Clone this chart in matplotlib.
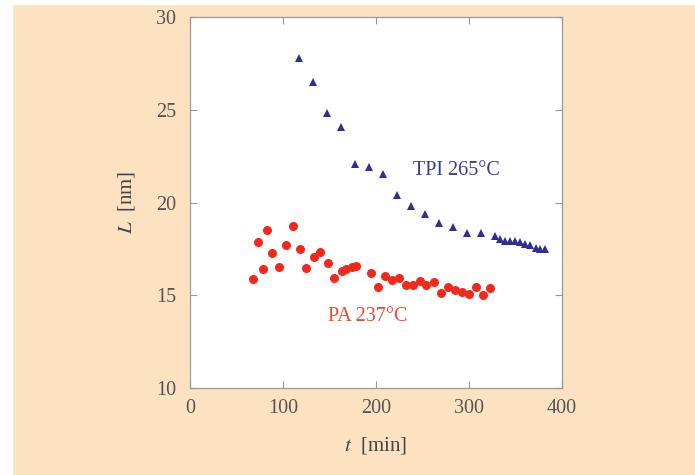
import matplotlib
matplotlib.use("Agg")
import matplotlib.pyplot as plt
from matplotlib.patches import Rectangle

# TPI 265C (blue triangles)
tpi_t = [117, 132, 147, 162, 177, 192, 207, 223, 238, 253, 268, 283, 298, 313,
         328, 333, 339, 344, 349, 355, 360, 366, 372, 376, 382]
tpi_L = [27.8, 26.5, 24.8, 24.05, 22.1, 21.9, 21.55, 20.4, 19.8, 19.4, 18.9, 18.7, 18.35, 18.35,
         18.2, 18.05, 17.9, 17.9, 17.95, 17.85, 17.75, 17.7, 17.55, 17.5, 17.5]

# PA 237C (red circles)
pa_t = [68, 73, 78, 83, 88, 96, 103, 111, 118, 125, 133, 140, 148, 155, 163, 168, 174, 179,
        195, 202, 210, 217, 225, 232, 240, 247, 254, 262, 270, 277, 285, 292, 300, 307, 315, 323]
pa_L = [15.85, 17.85, 16.4, 18.5, 17.3, 16.5, 17.7, 18.75, 17.5, 16.45, 17.05, 17.35, 16.75, 15.95,
        16.3, 16.4, 16.5, 16.6, 16.2, 15.45, 16.05, 15.8, 15.95, 15.55, 15.55, 15.75, 15.55, 15.7,
        15.1, 15.45, 15.3, 15.15, 15.05, 15.45, 15.0, 15.4]

bg = '#fde2c2'
plt.rcParams['font.family'] = ['Liberation Serif', 'DejaVu Serif']
plt.rcParams['mathtext.fontset'] = 'stix'

fig = plt.figure(figsize=(6.95, 4.75), dpi=100, facecolor=bg)
fig.patches.append(Rectangle((0, 0), 12 / 695, 1, transform=fig.transFigure, color='white', zorder=0))
fig.patches.append(Rectangle((0, 1 - 4 / 475), 1, 4 / 475, transform=fig.transFigure, color='white', zorder=0))

ax = fig.add_axes([190 / 695, 1 - 388 / 475, 372 / 695, 371 / 475])
ax.set_facecolor('white')

ax.plot(tpi_t, tpi_L, '^', color='#2e2e94', markersize=6, markeredgewidth=0)
ax.plot(pa_t, pa_L, 'o', color='#f2281c', markersize=6.5, markeredgewidth=0)

ax.text(240, 21.75, 'TPI 265°C', color='#3a3a9c', fontsize=14.5, va='center')
ax.text(148, 13.85, 'PA 237°C', color='#f04a30', fontsize=14.5, va='center')

ax.set_xlim(0, 400)
ax.set_ylim(10, 30)
ax.set_xticks([0, 100, 200, 300, 400])
ax.set_yticks([10, 15, 20, 25, 30])
ax.tick_params(direction='in', top=True, right=True, length=5, width=0.8,
               color='#999999', labelcolor='#555555', labelsize=14.5)
ax.tick_params(axis='x', pad=8)
ax.tick_params(axis='y', pad=10)
for s in ax.spines.values():
    s.set_color('#999999')
    s.set_linewidth(0.9)

ax.set_xlabel(r'$\mathit{t}$  [min]', fontsize=15, color='#444444', labelpad=12)
ax.set_ylabel(r'$\mathit{L}$  [nm]', fontsize=15, color='#444444', labelpad=14)

fig.savefig('out.png', dpi=100, facecolor=bg)
